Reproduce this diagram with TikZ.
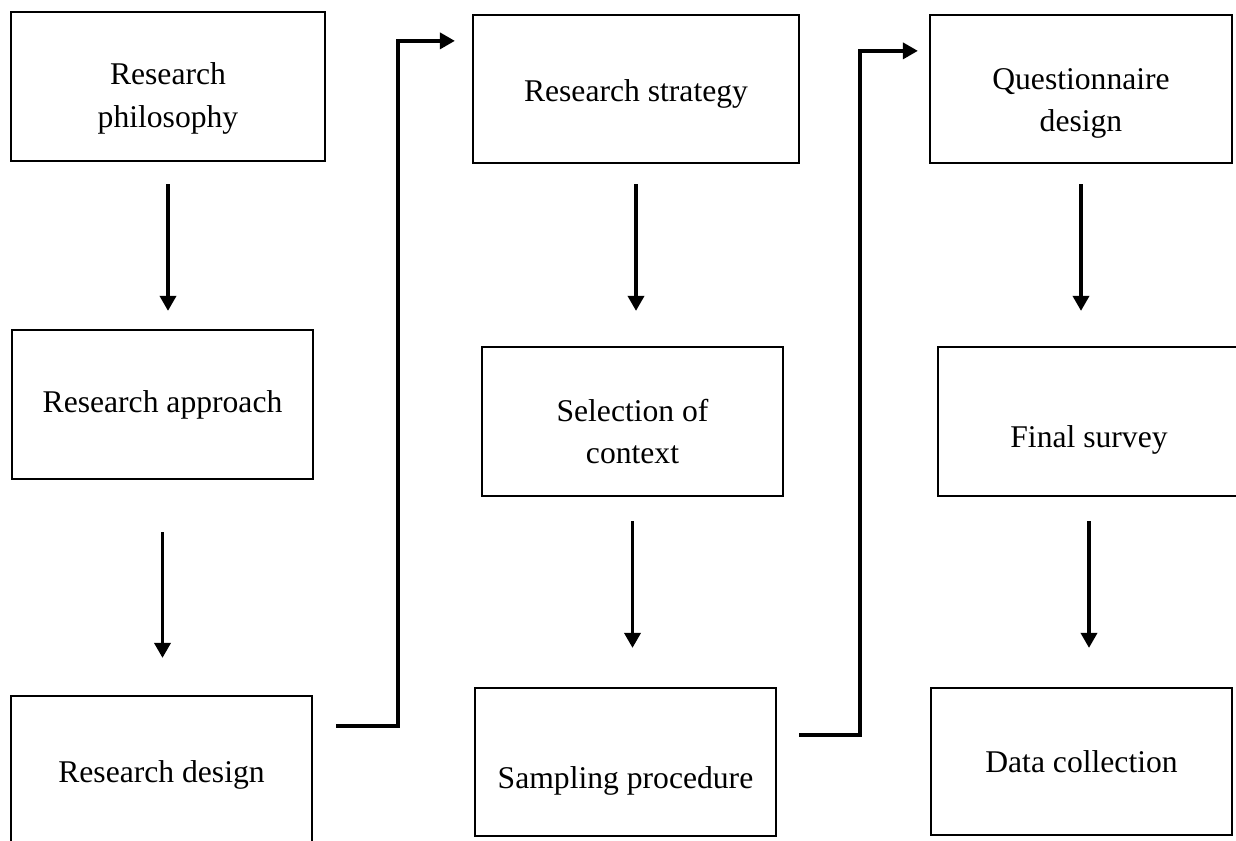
\documentclass[tikz,border=0pt]{standalone}
\usepackage{fontspec}
\setmainfont{Liberation Serif}
\usepackage{tikz}
\usetikzlibrary{arrows.meta}

\newcommand{\lift}[1]{\rule{0pt}{#1}}

\tikzset{
	stage/.style={rectangle,draw,line width=1.3pt,minimum width=6.02cm,minimum height=2.98cm,
		inner sep=0pt,align=center,font=\fontsize{18}{24}\selectfont},
	sunk/.style={text height=1.04cm,text depth=0pt},
	lowtext/.style={execute at begin node={\rule{0pt}{#1}}},
	flow/.style={line width=2pt,-{Triangle[width=0.32cm,length=0.3cm]}}
}

\begin{document}
\begin{tikzpicture}[x=0.02cm,y=-0.02cm]
		\useasboundingbox (0,0) rectangle (1236,840);
		\clip (0,0) rectangle (1236,840);

		% first column
		\node (phil)[stage,minimum width=6.28cm] at (168,86.5) {\lift{26pt}Research\\philosophy};
		\node (appr)[stage] at (162.5,404.5) {Research approach};
		\node (design)[stage,minimum height=3.16cm] at (161.5,775) {Research design};

		% second column
		\node (strat)[stage,lowtext=18pt,minimum width=6.52cm,minimum height=2.96cm] at (636,89) {Research strategy};
		\node (sel)[stage] at (632.5,421.5) {\lift{24pt}Selection of\\context};
		\node (samp)[stage,sunk,minimum height=2.96cm] at (625.5,762) {Sampling procedure};

		% third column
		\node (quest)[stage,minimum width=6.04cm,minimum height=2.96cm] at (1081,89) {\lift{28pt}Questionnaire\\design};
		\node (survey)[stage,sunk,minimum width=6.04cm] at (1089,421.5) {Final survey};
		\node (collect)[stage,minimum height=2.94cm] at (1081.5,761.5) {Data collection};

		\foreach \from/\to/\gapa/\gapb in {phil/appr/0.44/0.36, appr/design/1.04/0.74, strat/sel/0.40/0.70,
			sel/samp/0.48/0.78, quest/survey/0.40/0.70, survey/collect/0.48/0.78}{
			\draw[flow,shorten <=\gapa cm,shorten >=\gapb cm] (\from.south) -- (\from.south |- \to.north);
		}

		% jumps to the next column
		\coordinate (out1) at ([yshift=-0.62cm]design.north east);
		\coordinate (in1) at ([yshift=-0.54cm]strat.north west);
		\draw[flow,shorten <=0.46cm,shorten >=0.34cm] (out1) -- ++(85,0) |- (in1);

		\coordinate (out2) at ([yshift=-0.96cm]samp.north east);
		\coordinate (in2) at ([yshift=-0.74cm]quest.north west);
		\draw[flow,shorten <=0.44cm,shorten >=0.22cm] (out2) -- ++(83,0) |- (in2);
	\end{tikzpicture}
\end{document}
